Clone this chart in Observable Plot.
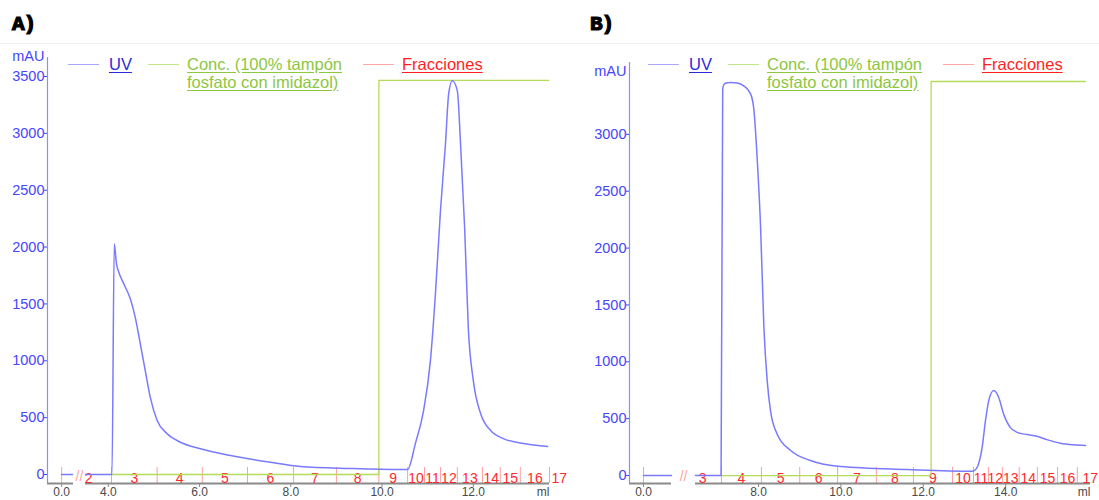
<!DOCTYPE html>
<html>
<head>
<meta charset="utf-8">
<script src="https://cdn.jsdelivr.net/npm/d3@7"></script>
<script src="https://cdn.jsdelivr.net/npm/@observablehq/plot@0.6"></script>
<style>
  body { margin: 0; background: #fff; font-family: "Liberation Sans", Arial, sans-serif; }
  #wrap { position: relative; width: 1099px; height: 500px; overflow: hidden; background: #fff; }
  .panel { position: absolute; top: 0; width: 540px; height: 500px; }
  .panel svg { position: absolute; left: 0; top: 0; }
  .tag { position: absolute; top: 13px; font: bold 21px "Liberation Mono", "DejaVu Sans Mono", monospace; color: #000; -webkit-text-stroke: 1.2px #000; letter-spacing: -1px; }
  .sep { position: absolute; left: 0; top: 43px; width: 1099px; height: 1px; background: #efefef; }
  .sw { position: absolute; height: 0; border-top: 1px solid; top: 64px; width: 31px; }
  .lt { position: absolute; font-size: 16.5px; line-height: 17.5px; text-decoration: underline; text-underline-offset: 2px; white-space: nowrap; z-index: 2; }
</style>
</head>
<body>
<div id="wrap">
  <div class="sep"></div>
</div>
<script>
// ---------------- data ----------------
const panelNames = ["A)", "B)"];
const legendUV = "UV";
const legendConc = ["Conc. (100% tampón", "fosfato con imidazol)"];
const legendFrac = "Fracciones";
const axisUnitY = "mAU";
const axisUnitX = "ml";

const xTicksA = [0, 4, 6, 8, 10, 12];
const xTicksB = [0, 8, 10, 12, 14];
const yTicksA = [0, 500, 1000, 1500, 2000, 2500, 3000, 3500];
const yTicksB = [0, 500, 1000, 1500, 2000, 2500, 3000];

// UV absorbance [ml, mAU]
const uvA = [
  [0, 0], [0.24, 0],
  [3.5, 0], [4.08, 0], [4.13, 2030], [4.18, 1850], [4.23, 1778], [4.34, 1676], [4.48, 1547],
  [4.59, 1382], [4.70, 1151], [4.81, 914], [4.92, 679], [5.07, 475], [5.29, 358], [5.58, 284],
  [6.02, 226], [6.68, 167], [7.55, 108], [8.21, 70], [9.3, 53], [10.4, 44], [10.56, 44],
  [10.73, 272], [10.91, 562], [11.06, 1002], [11.17, 1590], [11.28, 2320], [11.39, 2908],
  [11.46, 3348], [11.54, 3462], [11.65, 3374], [11.72, 2908], [11.81, 2170], [11.89, 1292],
  [12.0, 826], [12.16, 536], [12.38, 387], [12.66, 316], [13.1, 272], [13.63, 246]
];
const uvB = [
  [0, 0], [0.68, 0],
  [6.47, 0], [7.09, 0], [7.13, 3400], [7.18, 3448], [7.32, 3456], [7.48, 3451], [7.64, 3427],
  [7.81, 3354], [7.89, 3207], [7.97, 2768], [8.05, 2182], [8.13, 1303], [8.21, 835], [8.29, 571],
  [8.45, 366], [8.78, 220], [9.26, 132], [9.99, 79], [11.61, 53], [13.15, 38], [13.22, 40],
  [13.31, 73], [13.43, 249], [13.51, 483], [13.59, 659], [13.71, 747], [13.83, 688], [13.95, 542],
  [14.11, 424], [14.28, 380], [14.52, 360], [14.76, 345], [15.0, 316], [15.33, 284], [15.65, 270],
  [15.94, 264]
];

// Concentration of elution buffer [ml, %]
const concA = [[4.07, 0], [9.93, 0], [9.93, 100], [13.65, 100]];
const concB = [[7.1, 0], [12.19, 0], [12.19, 100], [15.94, 100]];

// Fraction boundaries (ml) and labels
const fracLabels = ["1","2","3","4","5","6","7","8","9","10","11","12","13","14","15","16","17"];
const fracBoundsA = [0, 3.07, 4.07, 5.07, 6.06, 7.05, 8.06, 9.0, 9.93, 10.56, 10.93, 11.28, 11.65, 12.2, 12.59, 13.03, 13.67, 14.1];
const fracBoundsB = [0, 3.09, 6.18, 7.1, 8.07, 9.0, 9.92, 10.86, 11.76, 12.71, 13.22, 13.58, 13.92, 14.33, 14.77, 15.26, 15.74, 16.37];

// ---------------- drawing ----------------
const BLUE = "#7a7aff", BLUE_TXT = "#4646ff", GREEN = "#b4dc58", RED_TXT = "#ff2a2a", RED_TICK = "#ff9f9f";
const CONC_TO_MAU = 34.65; // 100 % drawn at the same height as ~3465 mAU

function panel(o) {
  const [lo, b1, b2, hi] = o.xBreak;          // visible: [lo,b1] and [b2,hi]
  const gap = o.gap;                           // width of the break, in ml units
  const tf = v => v <= b1 ? v : v >= b2 ? v - (b2 - b1) + gap : b1 + (v - b1) / (b2 - b1) * gap;
  const inSeg = v => (v >= lo && v <= b1) || (v >= b2 && v <= hi);
  const uv = o.uv.map(([ml, mau]) => ({ml, mau, s: ml <= b1 ? 0 : 1}));
  const conc = o.conc.map(([ml, pct]) => ({ml, pct}));
  const fr = fracLabels.map((lab, i) => ({lab, c: (o.bounds[i] + o.bounds[i + 1]) / 2}))
    .filter(d => (d.c >= lo && d.c <= b1) || d.c >= b2);
  const fticks = o.bounds.filter(inSeg);
  const frameH = 500 - 17 - o.mt;
  const yMin = o.yDomain[0];
  const perPx = (o.yDomain[1] - o.yDomain[0]) / frameH;
  return Plot.plot({
    width: o.width, height: 500,
    marginLeft: o.ml, marginRight: o.mr, marginTop: o.mt, marginBottom: 17,
    x: {type: "linear", transform: tf, domain: [tf(lo), tf(hi)], axis: null},
    y: {domain: o.yDomain},
    style: {fontFamily: "'Liberation Sans', Arial, sans-serif", background: "transparent", overflow: "visible"},
    marks: [
      Plot.ruleX(fticks, {x: d => d, stroke: RED_TICK, strokeWidth: 1, insetTop: frameH - 16}),
      Plot.ruleY([{x1: lo, x2: b1}, {x1: b2, x2: hi}], {x1: "x1", x2: "x2", y: () => yMin, stroke: "#8a8a8a", strokeWidth: 2}),
      Plot.ruleX(o.xTicks, {x: d => d, y1: () => yMin, y2: () => yMin - 4 * perPx, stroke: "#8a8a8a", strokeWidth: 1}),
      Plot.text(o.xTicks, {x: d => d, text: d => d.toFixed(1), frameAnchor: "bottom", lineAnchor: "top", dy: 4, fill: "#4a4a4a", fontSize: 12}),
      Plot.ruleX([lo], {x: d => d, stroke: "#8c8cff", strokeWidth: 1.2}),
      Plot.axisY({ticks: o.yTicks, tickFormat: d => String(d), tickSize: 3, tickPadding: 0, color: BLUE_TXT, fontSize: 14.5, label: null}),
      Plot.text([axisUnitY], {frameAnchor: "top-left", textAnchor: "end", lineAnchor: "middle", dx: -3, dy: o.mauDy, fill: BLUE_TXT, fontSize: 14.5}),
      Plot.text([axisUnitX], {frameAnchor: "bottom-right", textAnchor: "end", lineAnchor: "top", dy: 4, fill: "#4a4a4a", fontSize: 12}),
      Plot.text(["//"], {x: () => (b1 + b2) / 2, frameAnchor: "bottom", lineAnchor: "bottom", dy: -3, fill: "#ffa5a5", fontSize: 14}),
      Plot.text(fr, {x: "c", text: "lab", frameAnchor: "bottom", lineAnchor: "bottom", dy: -1, fill: RED_TXT, fontSize: 14}),
      Plot.line(conc, {x: "ml", y: d => d.pct * CONC_TO_MAU, stroke: GREEN, strokeWidth: 1.3}),
      Plot.line(uv, {x: "ml", y: "mau", z: "s", stroke: BLUE, strokeWidth: 1.5, curve: "monotone-x"})
    ]
  });
}

function legend(div) {
  const add = (html) => { div.insertAdjacentHTML("beforeend", html); };
  add(`<div class="sw" style="left:68px;border-color:#a8a8ff"></div>`);
  add(`<div class="lt" style="left:109px;top:56px;color:#2b2bdb">${legendUV}</div>`);
  add(`<div class="sw" style="left:148px;border-color:#c4e488"></div>`);
  add(`<div class="lt" style="left:187px;top:56px;color:#8dc63f">${legendConc[0]}<br>${legendConc[1]}</div>`);
  add(`<div class="sw" style="left:363px;border-color:#ffa8a8"></div>`);
  add(`<div class="lt" style="left:402px;top:56px;color:#ff1f1f">${legendFrac}</div>`);
}

const wrap = document.getElementById("wrap");
const cfgs = [
  {left: 0, width: 560, ml: 47, mr: 11, mt: 57, xBreak: [-0.31, 0.26, 3.5, 13.67], gap: 0.263,
   yDomain: [-79, 3667], xTicks: xTicksA, yTicks: yTicksA, uv: uvA, conc: concA, bounds: fracBoundsA, mauDy: -1},
  {left: 580, width: 519, ml: 49, mr: 9, mt: 62, xBreak: [-0.34, 0.68, 6.47, 16.06], gap: 0.583,
   yDomain: [-70, 3632], xTicks: xTicksB, yTicks: yTicksB, uv: uvB, conc: concB, bounds: fracBoundsB, mauDy: 9}
];
cfgs.forEach((c, i) => {
  const div = document.createElement("div");
  div.className = "panel";
  div.style.left = c.left + "px";
  div.style.width = c.width + "px";
  wrap.appendChild(div);
  div.appendChild(panel(c));
  legend(div);
  const tag = document.createElement("div");
  tag.className = "tag";
  tag.style.left = (i === 0 ? 12 : 10) + "px";
  tag.textContent = panelNames[i];
  div.appendChild(tag);
});
</script>
</body>
</html>
